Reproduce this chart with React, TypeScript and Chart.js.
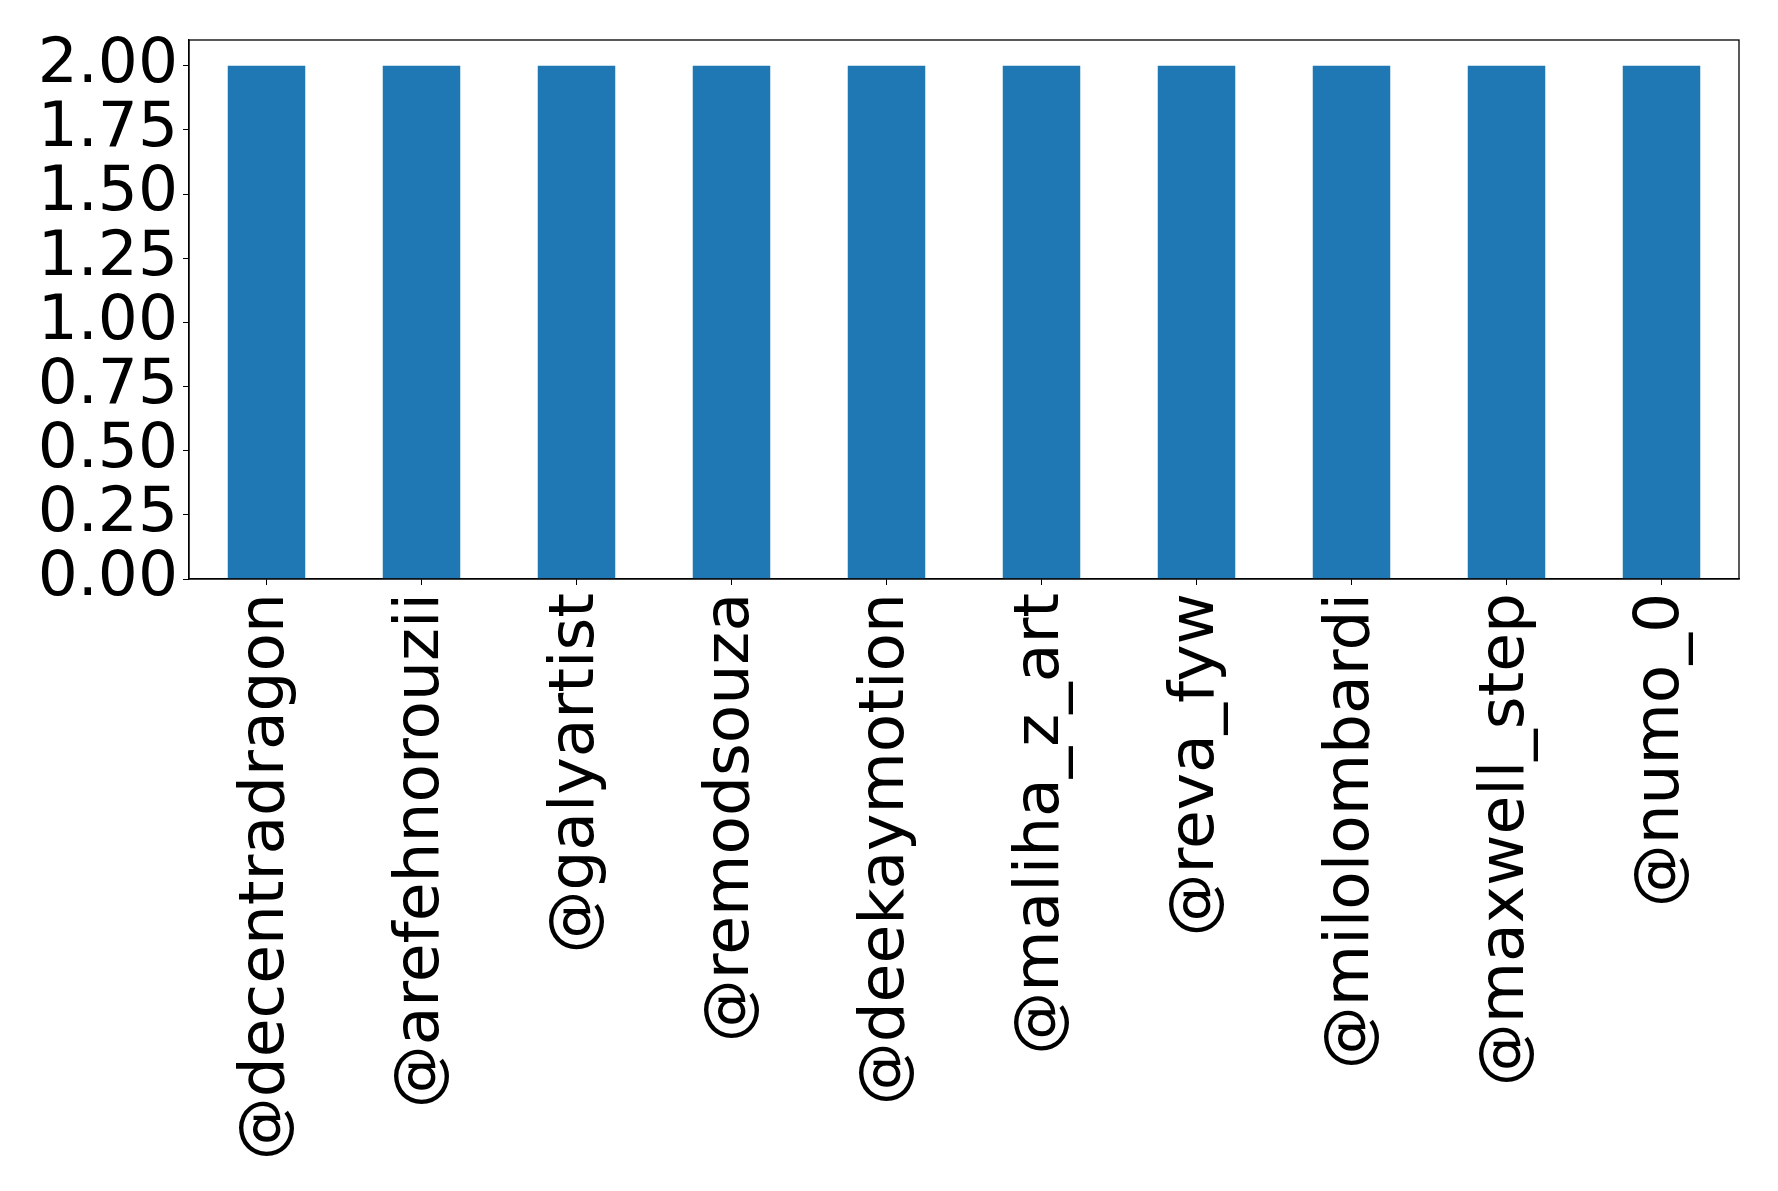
import React, { useEffect, useRef } from "react";
import { Chart, registerables } from "chart.js";

Chart.register(...registerables);

const categories = [
  "@decentradragon",
  "@arefehnorouzii",
  "@galyartist",
  "@remodsouza",
  "@deekaymotion",
  "@maliha_z_art",
  "@reva_fyw",
  "@milolombardi",
  "@maxwell_step",
  "@numo_0",
];
const values = [2, 2, 2, 2, 2, 2, 2, 2, 2, 2];
const yTickValues = [0, 0.25, 0.5, 0.75, 1.0, 1.25, 1.5, 1.75, 2.0];
const yMax = 2.1;

const W = 1778;
const H = 1191;
const FONT = "'DejaVu Sans', sans-serif";

const framePlugin = {
  id: "frame",
  afterDraw(chart: any) {
    const { ctx, chartArea } = chart;
    ctx.save();
    ctx.strokeStyle = "#000";
    ctx.lineWidth = 1.3;
    ctx.strokeRect(chartArea.left, chartArea.top, chartArea.right - chartArea.left, chartArea.bottom - chartArea.top);
    ctx.restore();
  },
};

export default function App() {
  const ref = useRef<HTMLCanvasElement | null>(null);
  useEffect(() => {
    if (!ref.current) return;
    const chart = new Chart(ref.current, {
      type: "bar",
      data: {
        labels: categories,
        datasets: [
          {
            data: values,
            backgroundColor: "#1f77b4",
            borderWidth: 0,
            categoryPercentage: 1,
            barPercentage: 0.5,
          },
        ],
      },
      options: {
        responsive: false,
        animation: false,
        devicePixelRatio: 1,
        layout: { padding: { top: 40, right: 39, left: 0, bottom: 0 } },
        plugins: { legend: { display: false }, tooltip: { enabled: false } },
        scales: {
          x: {
            offset: true,
            grid: { display: true, drawOnChartArea: false, drawTicks: true, tickLength: 6, color: "#000", offset: false },
            border: { display: true, color: "#000", width: 1.3 },
            ticks: {
              autoSkip: false,
              minRotation: 90,
              maxRotation: 90,
              padding: 8,
              color: "#000",
              font: { family: FONT, size: 63 },
            },
            afterFit(scale: any) {
              scale.height = H - 579;
              scale.paddingLeft = 0;
              scale.paddingRight = 0;
            },
          },
          y: {
            min: 0,
            max: yMax,
            grid: { display: true, drawOnChartArea: false, drawTicks: true, tickLength: 6, color: "#000" },
            border: { display: true, color: "#000", width: 1.3 },
            ticks: {
              autoSkip: false,
              padding: 5,
              color: "#000",
              font: { family: FONT, size: 63 },
              callback: (v: any) => Number(v).toFixed(2),
            },
            afterBuildTicks(scale: any) {
              scale.ticks = yTickValues.map((v) => ({ value: v }));
            },
            afterFit(scale: any) {
              scale.width = 189;
              scale.paddingTop = 0;
              scale.paddingBottom = 0;
            },
          },
        },
      },
      plugins: [framePlugin],
    });
    return () => chart.destroy();
  }, []);
  return (
    <div style={{ position: "fixed", left: 0, top: 0, width: W, height: H, background: "#fff" }}>
      <canvas ref={ref} width={W} height={H} style={{ display: "block" }} />
    </div>
  );
}
